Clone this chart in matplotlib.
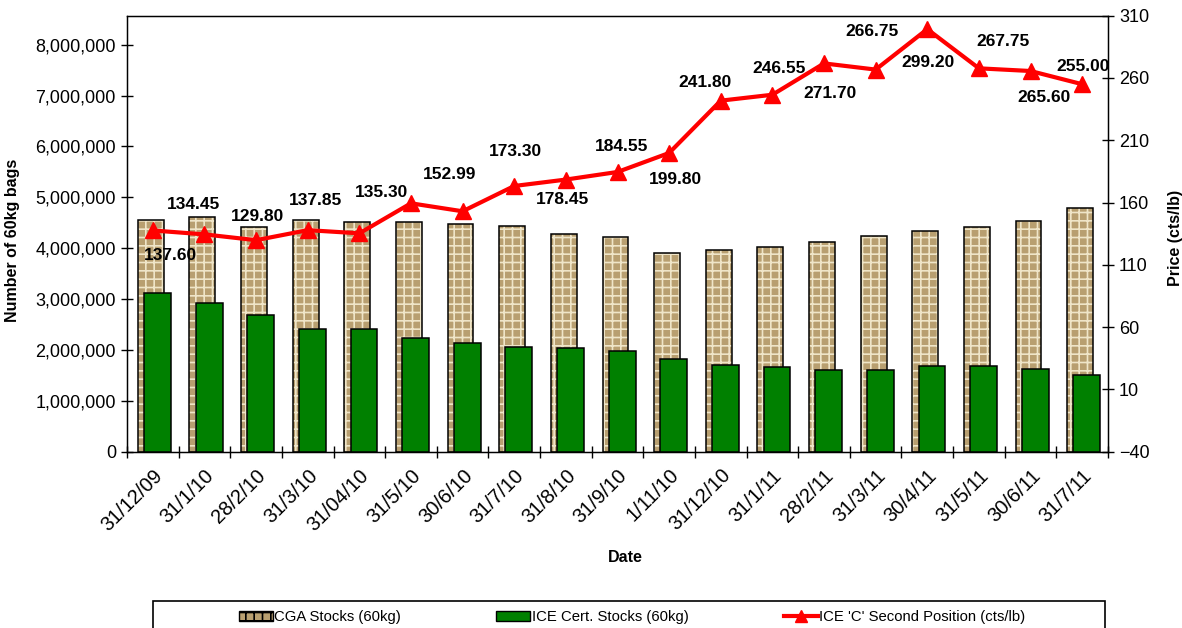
import numpy as np
import matplotlib
matplotlib.use('Agg')
import matplotlib.pyplot as plt
from matplotlib.patches import Rectangle
from matplotlib.ticker import FuncFormatter, FixedLocator

plt.rcParams['font.family'] = ['Liberation Sans', 'DejaVu Sans']
plt.rcParams['hatch.linewidth'] = 1.2

# data
dates = ['31/12/09', '31/1/10', '28/2/10', '31/3/10', '31/04/10', '31/5/10', '30/6/10',
         '31/7/10', '31/8/10', '31/9/10', '1/11/10', '31/12/10', '31/1/11', '28/2/11',
         '31/3/11', '30/4/11', '31/5/11', '30/6/11', '31/7/11']
cga_stocks = [4560000, 4620000, 4420000, 4560000, 4520000, 4520000, 4470000, 4440000,
              4280000, 4220000, 3900000, 3960000, 4020000, 4120000, 4240000, 4330000,
              4420000, 4540000, 4790000]
ice_stocks = [3110000, 2930000, 2680000, 2420000, 2420000, 2240000, 2130000, 2050000,
              2030000, 1970000, 1830000, 1710000, 1660000, 1600000, 1600000, 1690000,
              1680000, 1620000, 1500000]
price = [137.60, 134.45, 129.80, 137.85, 135.30, 159.40, 152.99, 173.30, 178.45, 184.55,
         199.80, 241.80, 246.55, 271.70, 266.75, 299.20, 267.75, 265.60, 255.00]
# label placement (pixel offsets from the point); None = no label shown
label_offsets = [(18, -25), (-11, 30), (1, 24), (8, 30), (22, 41), None, (-13, 37),
                 (1, 34), (-3, -20), (4, 25), (6, -27), (-16, 18), (7, 26), (6, -30),
                 (-4, 38), (1, -33), (24, 27), (13, -26), (1, 18)]

fig = plt.figure(figsize=(11.82, 6.28), dpi=100)
ax = fig.add_axes([127 / 1182, 1 - 451.7 / 628, 981 / 1182, 436 / 628])
x = np.arange(len(dates))

# CGA bars: textured fill + black outline
ax.bar(x - 0.04, cga_stocks, width=0.50, color='#b89f70', edgecolor='#efe5c8',
       hatch='++', linewidth=0, zorder=2)
ax.bar(x - 0.04, cga_stocks, width=0.50, fill=False, edgecolor='black', linewidth=1.1, zorder=3)
ax.bar(x + 0.09, ice_stocks, width=0.52, color='#008000', edgecolor='black', linewidth=1.1, zorder=4)

ax.set_xlim(-0.5, len(dates) - 0.5)
ax.set_ylim(0, 8.57e6)
ax.set_yticks(np.arange(0, 8000001, 1000000))
ax.yaxis.set_major_formatter(FuncFormatter(lambda v, p: f'{int(v):,}'))
ax.set_xticks(x)
ax.set_xticklabels(dates, rotation=45, ha='right', rotation_mode='anchor', fontsize=14.5)
ax.xaxis.set_minor_locator(FixedLocator(np.arange(-0.5, len(dates), 1.0)))
ax.tick_params(axis='x', which='major', length=0, pad=10)
ax.tick_params(axis='x', which='minor', length=9, direction='inout', width=1)
ax.tick_params(axis='y', length=9, direction='inout', width=1, labelsize=13)
for s in ax.spines.values():
    s.set_linewidth(1)

ax.set_ylabel('Number of 60kg bags', fontsize=11.5, fontweight='bold')
ax.yaxis.set_label_coords(-0.109, 0.484)
ax.set_xlabel('Date', fontsize=11.5, fontweight='bold')
ax.xaxis.set_label_coords(0.508, -0.225)

ax2 = ax.twinx()
ax2.plot(x, price, color='#ff0000', linewidth=3, marker='^', markersize=11, zorder=5)
ax2.set_ylim(-40, 310)
ax2.set_yticks(np.arange(-40, 311, 50))
ax2.tick_params(axis='y', length=9, direction='inout', width=1, labelsize=13)
ax2.set_ylabel('Price (cts/lb)', fontsize=11.5, fontweight='bold')
ax2.yaxis.set_label_coords(1.061, 0.49)

for xi, p, off in zip(x, price, label_offsets):
    if off is None:
        continue
    ax2.annotate(f'{p:.2f}', (xi, p), xytext=off, textcoords='offset pixels',
                 ha='center', va='center', fontsize=12.5, fontweight='bold', zorder=6)

# legend with frame running off the bottom edge
fig.add_artist(Rectangle((153 / 1182, -0.05), 952 / 1182, 0.05 + (628 - 601) / 628,
                         transform=fig.transFigure, fill=False, edgecolor='black', linewidth=1.2))
h1 = Rectangle((0, 0), 1, 1, facecolor='#b89f70', edgecolor='black', hatch='++')
h2 = Rectangle((0, 0), 1, 1, facecolor='#008000', edgecolor='black')
h3 = plt.Line2D([], [], color='#ff0000', linewidth=3, marker='^', markersize=8)
fig.legend([h1, h2, h3], ['CGA Stocks (60kg)', 'ICE Cert. Stocks (60kg)',
                          "ICE 'C' Second Position (cts/lb)"],
           ncol=3, loc='center', bbox_to_anchor=(632 / 1182, 1 - 617 / 628), frameon=False,
           fontsize=10.7, handlelength=2.3, handletextpad=0.1, columnspacing=6.4)

fig.savefig('out.png', dpi=100)
